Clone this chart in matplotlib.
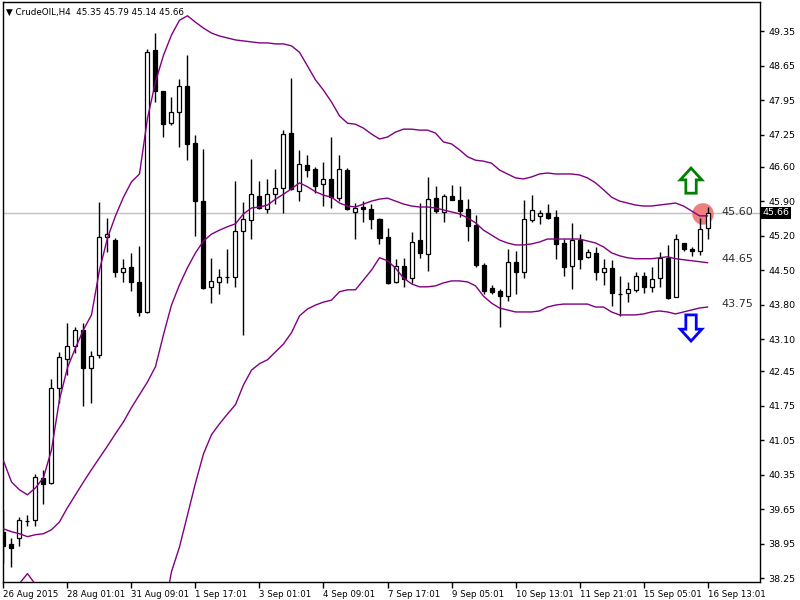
"""
CrudeOIL H4 candlestick chart with Bollinger bands (MetaTrader style).
"""

import matplotlib
matplotlib.use("Agg")
import matplotlib.pyplot as plt
from matplotlib.patches import FancyArrow

# --- data -----------------------------------------------------------------
opens = [39.19, 38.95, 39.07, 39.41, 39.43, 40.28, 40.18, 42.11, 42.70, 42.96,
         43.29, 42.51, 42.78, 45.17, 45.11, 44.46, 44.56, 44.26, 43.65, 48.96,
         48.13, 47.48, 47.71, 48.24, 47.08, 45.90, 44.16, 44.26, 44.36, 44.36,
         45.29, 45.52, 46.00, 45.74, 46.04, 46.17, 47.28, 46.11, 46.63, 46.55,
         46.25, 46.35, 45.96, 46.53, 45.68, 45.78, 45.74, 45.54, 45.17, 44.26,
         44.58, 44.34, 45.11, 44.83, 45.96, 45.68, 46.00, 45.92, 45.74, 45.42,
         44.61, 44.14, 44.08, 43.98, 44.66, 44.46, 45.52, 45.60, 45.66, 45.58,
         45.05, 44.58, 45.11, 44.77, 44.85, 44.46, 44.54, 44.02, 44.04, 44.10,
         44.38, 44.16, 44.34, 44.75, 43.96, 45.05, 44.93, 44.89, 45.35]
highs = [39.63, 39.07, 39.49, 39.53, 40.37, 40.45, 42.29, 42.84, 43.43, 43.35,
         43.43, 42.86, 45.88, 45.56, 45.15, 44.73, 44.85, 44.99, 48.98, 49.31,
         48.13, 48.01, 48.38, 48.86, 47.24, 46.96, 44.75, 44.52, 44.93, 46.31,
         45.88, 46.75, 46.31, 46.35, 46.55, 47.34, 48.40, 46.94, 46.84, 46.59,
         46.69, 47.20, 46.84, 46.57, 45.86, 45.90, 45.84, 45.56, 45.35, 44.73,
         44.75, 45.27, 45.86, 46.39, 46.21, 46.04, 46.23, 46.21, 45.94, 45.62,
         44.65, 44.20, 44.12, 44.93, 44.89, 45.92, 46.02, 45.72, 45.84, 45.72,
         45.13, 45.46, 45.23, 44.93, 44.97, 44.73, 44.71, 44.38, 44.26, 44.46,
         44.46, 44.56, 44.87, 45.01, 45.23, 45.05, 44.97, 45.56, 45.79]
lows = [38.56, 38.48, 38.91, 39.31, 39.31, 39.76, 40.16, 41.80, 42.37, 42.82,
        41.74, 41.80, 42.72, 44.87, 44.36, 44.26, 44.08, 43.57, 43.63, 47.91,
        47.20, 47.44, 47.00, 46.73, 45.19, 44.12, 43.83, 44.02, 44.24, 44.16,
        43.18, 45.13, 45.74, 45.66, 45.84, 45.66, 46.13, 45.90, 46.39, 46.06,
        45.80, 45.76, 45.90, 45.72, 45.13, 45.48, 45.33, 45.03, 44.22, 44.24,
        44.16, 44.24, 44.75, 44.48, 45.66, 45.48, 45.92, 45.58, 45.09, 44.56,
        44.02, 44.02, 43.35, 43.87, 44.02, 44.34, 45.48, 45.44, 45.54, 44.73,
        44.38, 44.12, 44.52, 44.75, 44.30, 44.20, 43.77, 43.57, 43.85, 44.06,
        44.04, 44.06, 44.16, 43.91, 43.95, 44.89, 44.79, 44.81, 45.14]
closes = [38.91, 38.87, 39.43, 39.41, 40.30, 40.16, 42.11, 42.74, 42.96, 43.29,
          42.51, 42.76, 45.17, 45.23, 44.46, 44.54, 44.26, 43.65, 48.92, 48.13,
          47.46, 47.71, 48.24, 47.06, 45.90, 44.14, 44.28, 44.36, 44.36, 45.29,
          45.54, 46.04, 45.76, 46.04, 46.17, 47.26, 46.15, 46.65, 46.53, 46.21,
          46.35, 45.98, 46.55, 45.74, 45.76, 45.74, 45.54, 45.15, 44.24, 44.58,
          44.32, 45.07, 44.85, 45.94, 45.70, 46.00, 45.92, 45.70, 45.40, 44.61,
          44.08, 44.06, 43.98, 44.66, 44.46, 45.54, 45.72, 45.66, 45.56, 45.03,
          44.56, 45.11, 44.73, 44.87, 44.46, 44.54, 44.04, 44.02, 44.12, 44.38,
          44.16, 44.32, 44.75, 43.93, 45.13, 44.93, 44.89, 45.33, 45.66]

bb_upper = [40.63, 40.20, 40.04, 39.94, 40.08, 40.29, 40.85, 41.87, 42.52, 42.92,
            43.29, 43.59, 44.50, 45.15, 45.60, 45.98, 46.29, 46.45, 47.58, 48.32,
            48.86, 49.27, 49.57, 49.66, 49.53, 49.41, 49.31, 49.25, 49.21, 49.17,
            49.15, 49.13, 49.11, 49.11, 49.09, 49.09, 49.05, 48.92, 48.64, 48.36,
            48.15, 47.91, 47.63, 47.48, 47.46, 47.38, 47.26, 47.16, 47.20, 47.30,
            47.36, 47.36, 47.34, 47.34, 47.28, 47.10, 47.06, 46.94, 46.80, 46.73,
            46.71, 46.67, 46.53, 46.45, 46.37, 46.35, 46.39, 46.45, 46.47, 46.45,
            46.45, 46.45, 46.43, 46.37, 46.27, 46.13, 45.98, 45.90, 45.86, 45.82,
            45.80, 45.80, 45.82, 45.84, 45.86, 45.80, 45.70, 45.60, 45.60]
bb_middle = [39.25, 39.19, 39.15, 39.09, 39.13, 39.15, 39.23, 39.39, 39.68, 39.94,
             40.20, 40.45, 40.69, 40.93, 41.18, 41.42, 41.71, 41.97, 42.23, 42.54,
             43.19, 43.79, 44.20, 44.55, 44.85, 45.09, 45.23, 45.31, 45.38, 45.44,
             45.64, 45.76, 45.78, 45.82, 45.94, 46.04, 46.15, 46.27, 46.19, 46.09,
             46.02, 45.98, 45.86, 45.80, 45.78, 45.84, 45.90, 45.94, 45.96, 45.90,
             45.84, 45.80, 45.78, 45.78, 45.76, 45.72, 45.68, 45.64, 45.56, 45.46,
             45.31, 45.21, 45.11, 45.05, 45.01, 45.01, 45.03, 45.07, 45.13, 45.13,
             45.13, 45.13, 45.13, 45.09, 45.05, 44.97, 44.85, 44.79, 44.75, 44.73,
             44.73, 44.73, 44.75, 44.77, 44.73, 44.71, 44.69, 44.67, 44.65]
bb_lower = [38.07, 38.05, 38.14, 38.34, 38.12, 37.97, 37.60, 36.91, 36.83, 36.95,
            37.12, 37.30, 36.87, 36.71, 36.75, 36.85, 37.12, 37.48, 36.87, 36.75,
            37.50, 38.38, 38.88, 39.53, 40.18, 40.77, 41.16, 41.38, 41.58, 41.77,
            42.17, 42.47, 42.60, 42.68, 42.84, 43.00, 43.23, 43.57, 43.71, 43.79,
            43.85, 43.89, 44.06, 44.10, 44.10, 44.30, 44.50, 44.75, 44.69, 44.54,
            44.34, 44.22, 44.16, 44.16, 44.18, 44.24, 44.28, 44.28, 44.26, 44.18,
            43.97, 43.83, 43.73, 43.69, 43.65, 43.65, 43.65, 43.67, 43.75, 43.79,
            43.81, 43.81, 43.81, 43.81, 43.75, 43.75, 43.65, 43.59, 43.59, 43.59,
            43.61, 43.65, 43.67, 43.65, 43.61, 43.65, 43.69, 43.73, 43.75]

x_labels = ["26 Aug 2015", "28 Aug 01:01", "31 Aug 09:01", "1 Sep 17:01",
            "3 Sep 01:01", "4 Sep 09:01", "7 Sep 17:01", "9 Sep 05:01",
            "10 Sep 13:01", "11 Sep 21:01", "15 Sep 05:01", "16 Sep 13:01"]
y_ticks = [49.35, 48.65, 47.95, 47.25, 46.60, 45.90, 45.20, 44.50, 43.80,
           43.10, 42.45, 41.75, 41.05, 40.35, 39.65, 38.95, 38.25]
band_labels = ["45.60", "44.65", "43.75"]
last_price = 45.66

# --- plot -------------------------------------------------------------------
plt.rcParams["font.family"] = ["DejaVu Sans"]
fig = plt.figure(figsize=(8, 6), dpi=100)
ax = fig.add_axes([3 / 800, 18 / 600, 757 / 800, 580 / 600])

n = len(closes)
xs = list(range(n))

ax.axhline(last_price, color="#c0c0c0", lw=1, zorder=1)

ax.vlines(xs, lows, highs, color="black", lw=1, zorder=2)
bottoms = [min(o, c) for o, c in zip(opens, closes)]
heights = [abs(c - o) for o, c in zip(opens, closes)]
faces = ["black" if c < o else "white" for o, c in zip(opens, closes)]
ax.bar(xs, heights, bottom=bottoms, width=0.5, color=faces,
       edgecolor="black", linewidth=0.9, zorder=3)

for band in (bb_upper, bb_middle, bb_lower):
    ax.plot(xs, band, color="#800080", lw=1, zorder=4)

# marker circle on the last candle
ax.scatter([87.44], [45.64], s=240, color="#f08080", edgecolors="none", zorder=1.8)

# up / down arrows
ax.add_patch(FancyArrow(85.94, 46.06, 0, 0.51, width=1.3, head_width=2.7,
                        head_length=0.24, length_includes_head=True,
                        facecolor="white", edgecolor="#008000", lw=2, zorder=5))
ax.add_patch(FancyArrow(85.94, 43.59, 0, -0.53, width=1.3, head_width=2.7,
                        head_length=0.24, length_includes_head=True,
                        facecolor="white", edgecolor="#0000ff", lw=2, zorder=5))

for txt, val in zip(band_labels, (bb_upper[-1], bb_middle[-1], bb_lower[-1])):
    ax.annotate(txt, (89.8, val), xytext=(0, 2.5), textcoords="offset points",
                ha="left", va="center", fontsize=8, color="#303030", zorder=6)

ax.set_xlim(-0.06, 94.56)
ax.set_ylim(38.17, 49.94)

ax.set_xticks(xs[::8])
ax.set_xticklabels(x_labels, ha="left", fontsize=6.2)
ax.tick_params(axis="x", direction="out", length=4, width=1, pad=2)

ax.yaxis.tick_right()
ax.set_yticks(y_ticks)
ax.set_yticklabels([f"{v:.2f}" for v in y_ticks], fontsize=6.8)
ax.tick_params(axis="y", direction="out", length=3, width=1, pad=3)

for sp in ax.spines.values():
    sp.set_color("black")
    sp.set_linewidth(1)

# current price tag on the axis
ax.text(1.003, last_price, f"{last_price:.2f}", transform=ax.get_yaxis_transform(),
        ha="left", va="center", fontsize=6.8, color="white",
        bbox=dict(boxstyle="square,pad=0.15", fc="black", ec="none"),
        clip_on=False, zorder=7)

fig.text(6 / 800, 1 - 12 / 600, "▼ CrudeOIL,H4  45.35 45.79 45.14 45.66",
         ha="left", va="center", fontsize=6.3)

fig.savefig("out.png", dpi=100)
